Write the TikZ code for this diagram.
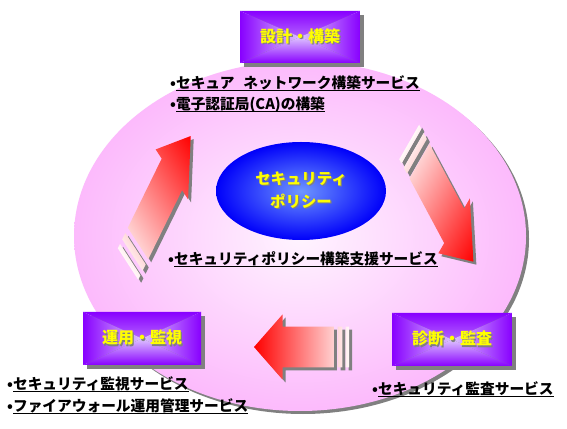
\documentclass[tikz,border=0pt]{standalone}
\usepackage{fontspec}
\newfontfamily\jp{Noto Sans CJK JP}
\usetikzlibrary{shapes.geometric,shadows}
\definecolor{pinkout}{RGB}{252,186,252}
\definecolor{pinkin}{RGB}{255,244,255}
\definecolor{shadowgray}{RGB}{128,128,128}
\definecolor{violetedge}{RGB}{136,0,255}
\definecolor{violetmid}{RGB}{222,196,255}
\definecolor{blueout}{RGB}{0,0,250}
\definecolor{bluein}{RGB}{110,150,255}
\definecolor{txtyellow}{RGB}{255,255,0}
\definecolor{arrowred}{RGB}{255,0,0}
\definecolor{arrowtail}{RGB}{255,248,248}
\newcommand{\shtext}[1]{\makebox[0pt][l]{\hspace*{1.3pt}\raisebox{-1.3pt}{\textcolor{shadowgray}{#1}}}#1}
\newcommand{\ulin}[1]{\setbox0\hbox{#1}\rlap{\rule[-2.8pt]{\wd0}{1.3pt}}\box0}
\newcommand{\blockarrow}[6]{%
  \begin{scope}[transform canvas={shift={(#1+3,#2-3)},rotate=#3,xscale=#4,yscale=#5,xslant=#6}]
    \fill[shadowgray] (0,-63) rectangle (3.5,63) (7,-63) rectangle (12,63)
      (16,-63) -- (70,-63) -- (70,-100) -- (100,0) -- (70,100) -- (70,63) -- (16,63) -- cycle;
  \end{scope}
  \begin{scope}[transform canvas={shift={(#1,#2)},rotate=#3,xscale=#4,yscale=#5,xslant=#6}]
    \shade[left color=arrowtail,right color=arrowred] (0,-63) rectangle (3.5,63) (7,-63) rectangle (12,63)
      (16,-63) -- (70,-63) -- (70,-100) -- (100,0) -- (70,100) -- (70,63) -- (16,63) -- cycle;
  \end{scope}}
\begin{document}
\begin{tikzpicture}[x=1pt,y=1pt,
  listitem/.style={anchor=base west, inner sep=0pt, font=\jp\bfseries\fontsize{14.7}{16}\selectfont, text=black},
  boxlabel/.style={rectangle, minimum width=120pt, minimum height=52pt, inner sep=0pt, text=txtyellow,
     font=\jp\bfseries\fontsize{16}{19}\selectfont,
     drop shadow={shadow xshift=4pt, shadow yshift=-4pt, fill=shadowgray, opacity=1},
     path picture={
       \shade[top color=violetedge,bottom color=violetmid] (path picture bounding box.north west) -- (path picture bounding box.north east) -- (path picture bounding box.center) -- cycle;
       \shade[bottom color=violetedge,top color=violetmid] (path picture bounding box.south west) -- (path picture bounding box.south east) -- (path picture bounding box.center) -- cycle;
       \shade[left color=violetedge,right color=violetmid] (path picture bounding box.north west) -- (path picture bounding box.south west) -- (path picture bounding box.center) -- cycle;
       \shade[right color=violetedge,left color=violetmid] (path picture bounding box.north east) -- (path picture bounding box.south east) -- (path picture bounding box.center) -- cycle;
     }},
]
\fill[white] (0,0) rectangle (567,428);
\useasboundingbox (0,0) rectangle (567,428);

\node[ellipse, minimum width=452pt, minimum height=350pt, inner sep=0pt,
      inner color=pinkin, outer color=pinkout,
      drop shadow={shadow xshift=3pt, shadow yshift=-3pt, fill=shadowgray, opacity=1}] (ring) at (300,192) {};

\node[ellipse, minimum width=170pt, minimum height=98pt, inner sep=0pt,
      inner color=bluein, outer color=blueout, text=txtyellow, align=center,
      font=\jp\bfseries\fontsize{15.4}{23}\selectfont] (policy) at (301,237)
      {\shtext{セキュリティ}\\\shtext{ポリシー}};

\blockarrow{349}{81}{180}{0.95}{0.325}{0}
\blockarrow{128}{164}{63.9}{1.425}{0.2555}{0.1075}
\blockarrow{409.2}{286}{-61.8}{1.358}{0.269}{-0.1235}

\node[boxlabel] (design) at (300,391) {\shtext{設計・構築}};
\node[boxlabel, minimum width=118pt, minimum height=53pt] (ops) at (142,89.5) {\shtext{運用・監視}};
\node[boxlabel, minimum height=53pt] (audit) at (452,88.5) {\shtext{診断・監査}};

\node[listitem] (i1) at (170,339.7) {•\ulin{セキュア\hspace{0.6em}ネットワーク構築サービス}};
\node[listitem] (i2) at (170,318.7) {•\ulin{電子認証局(CA)の構築}};
\node[listitem] (i3) at (168,163.7) {•\ulin{セキュリティポリシー構築支援サービス}};
\node[listitem] (i4) at (7,38.7) {•\ulin{セキュリティ監視サービス}};
\node[listitem] (i5) at (7,16.7) {•\ulin{ファイアウォール運用管理サービス}};
\node[listitem] (i6) at (372,33.7) {•\ulin{セキュリティ監査サービス}};
\end{tikzpicture}
\end{document}
